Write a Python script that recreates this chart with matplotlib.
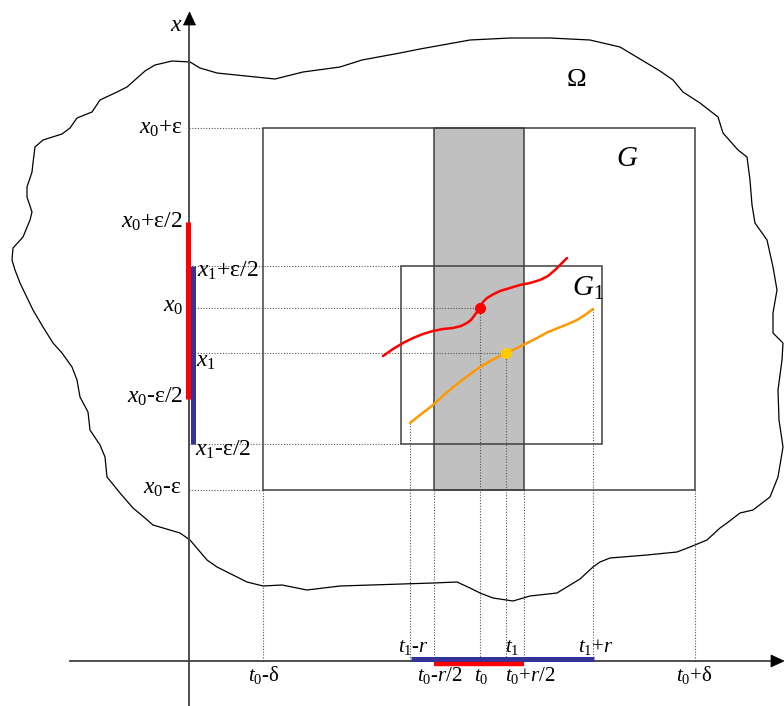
import numpy as np
import matplotlib
matplotlib.use("Agg")
import matplotlib.pyplot as plt
from matplotlib.patches import Rectangle, Polygon

plt.rcParams['font.family'] = ['Liberation Serif', 'DejaVu Serif']
plt.rcParams['mathtext.fontset'] = 'custom'
plt.rcParams['mathtext.rm'] = 'Liberation Serif'
plt.rcParams['mathtext.it'] = 'Liberation Serif:italic'

# --- geometry (pixel units, y grows downward) ---
axis_x, axis_y = 189.5, 661

# x-levels on the vertical axis
x0_eps_hi, x0_eps_lo = 128, 490          # x0 +/- eps
x0_half_hi, x0_half_lo = 222, 399        # x0 +/- eps/2
x1_half_hi, x1_half_lo = 266, 444        # x1 +/- eps/2
x0_lvl, x1_lvl = 308, 353

# t-levels on the horizontal axis
t0_delta_lo, t0_delta_hi = 263, 695      # t0 +/- delta
t0_r_lo, t0_r_hi = 434, 524              # t0 +/- r/2
t1_r_lo, t1_r_hi = 411, 594              # t1 +/- r
t0_lvl, t1_lvl = 480, 506

# G1 box
g1_left, g1_right = 401, 602

# boundary of Omega
omega_x = [172, 190, 200, 217, 275, 303, 340, 362, 400, 420, 470, 510, 550, 590,
           620, 640, 660, 673, 683, 700, 718, 723, 738, 747, 750, 752, 755, 767,
           773, 777, 773, 773, 783, 782, 778, 779, 783, 778, 770, 753, 740, 727,
           720, 707, 690, 677, 647, 610, 600, 593, 580, 557, 530, 513, 493, 480,
           470, 457, 433, 340, 307, 282, 263, 247, 217, 207, 190, 180, 153, 145,
           133, 120, 107, 105, 100, 90, 88, 80, 77, 72, 62, 53, 43, 33, 20, 15,
           12, 13, 23, 30, 32, 27, 27, 32, 33, 35, 43, 62, 70, 77, 92, 100, 117,
           127, 145, 155]
omega_y = [61, 62, 68, 73, 79, 72, 67, 60, 53, 49, 40, 38, 38, 40,
           47, 59, 71, 80, 92, 103, 117, 133, 150, 157, 180, 205, 223, 240,
           267, 290, 313, 333, 343, 360, 390, 420, 447, 477, 497, 510, 513, 523,
           528, 540, 547, 552, 555, 558, 562, 567, 579, 593, 596, 601, 598, 593,
           588, 582, 583, 586, 590, 585, 586, 582, 567, 560, 540, 533, 525, 518,
           508, 493, 477, 457, 445, 430, 412, 397, 380, 367, 353, 343, 327, 310, 283, 270,
           260, 248, 237, 220, 212, 197, 187, 172, 163, 147, 140, 134, 128, 118, 112, 100, 92,
           87, 71, 65]

# red trajectory through (t0, x0)
red_t = [383, 393, 403, 413, 423, 433, 443, 453, 461, 467, 471, 474, 477, 480,
         483, 487, 492, 500, 510, 520, 530, 540, 548, 555, 561, 567]
red_x = [356, 349, 343, 338, 334, 331, 329, 328, 326, 323, 320, 316, 312, 307,
         302, 298, 295, 291, 288, 285, 283, 280, 276, 270, 264, 258]

# orange trajectory through (t1, x1)
orange_t = [410, 420, 433, 445, 457, 469, 480, 492, 506, 515, 525, 537, 548,
            558, 568, 577, 585, 593]
orange_x = [423, 415, 405, 394, 384, 375, 367, 360, 353, 349, 344, 338, 332,
            328, 324, 320, 315, 309]

DARK = '#404040'
DOT = '#555555'
RED = '#ff0000'
BLUE = '#333399'
ORANGE = '#ff9900'

fig = plt.figure(figsize=(7.84, 7.06), dpi=100)
ax = fig.add_axes([0, 0, 1, 1])
ax.set_xlim(0, 784)
ax.set_ylim(706, 0)
ax.axis('off')

# domain boundary
ax.add_patch(Polygon(np.column_stack([omega_x, omega_y]), closed=True,
                     fill=False, ec='black', lw=0.9, zorder=2))

# shaded strip and boxes
ax.add_patch(Rectangle((t0_r_lo, x0_eps_hi), t0_r_hi - t0_r_lo, x0_eps_lo - x0_eps_hi,
                       fc='#c0c0c0', ec=DARK, lw=1.1, zorder=1))
ax.add_patch(Rectangle((t0_delta_lo, x0_eps_hi), t0_delta_hi - t0_delta_lo,
                       x0_eps_lo - x0_eps_hi, fill=False, ec=DARK, lw=1.1, zorder=3))
ax.add_patch(Rectangle((g1_left, x1_half_hi), g1_right - g1_left, x1_half_lo - x1_half_hi,
                       fill=False, ec=DARK, lw=1.1, zorder=3))

# dotted guides
dkw = dict(color=DOT, lw=0.8, ls=(0, (1, 1.5)), zorder=2)
ax.plot([axis_x, t0_delta_lo], [x0_eps_hi] * 2, **dkw)
ax.plot([axis_x, t0_delta_lo], [x0_eps_lo] * 2, **dkw)
ax.plot([axis_x, g1_left], [x1_half_hi] * 2, **dkw)
ax.plot([axis_x, g1_left], [x1_half_lo] * 2, **dkw)
ax.plot([axis_x, t0_lvl], [x0_lvl] * 2, **dkw)
ax.plot([axis_x, t1_lvl], [x1_lvl] * 2, **dkw)
for t in [t0_delta_lo, t0_r_lo, t0_r_hi, t0_delta_hi]:
    ax.plot([t, t], [x0_eps_lo, axis_y], **dkw)
ax.plot([t0_lvl] * 2, [x0_lvl, axis_y], **dkw)
ax.plot([t1_lvl] * 2, [x1_lvl, axis_y], **dkw)
ax.plot([orange_t[0]] * 2, [orange_x[0], axis_y], **dkw)
ax.plot([orange_t[-1]] * 2, [orange_x[-1], axis_y], **dkw)

# trajectories
ax.plot(red_t, red_x, color=RED, lw=1.8, zorder=5, solid_capstyle='round',
        solid_joinstyle='round')
ax.plot(orange_t, orange_x, color=ORANGE, lw=1.8, zorder=5, solid_capstyle='round',
        solid_joinstyle='round')
ax.plot([t0_lvl], [x0_lvl], 'o', color=RED, ms=7, zorder=6)
ax.plot([t1_lvl], [x1_lvl], 'o', color='#ffcc00', ms=7, zorder=6)

# axes with arrow heads
ax.plot([70, 772], [axis_y, axis_y], color=DARK, lw=1.3, zorder=4)
ax.plot([axis_x, axis_x], [25, 706], color=DARK, lw=1.3, zorder=4)
ax.add_patch(Polygon([[771, 655], [784, axis_y], [771, 667]], closed=True,
                     fc='black', ec='black', lw=0.5, zorder=7))
ax.add_patch(Polygon([[axis_x - 6, 25], [axis_x, 12], [axis_x + 6, 25]], closed=True,
                     fc='black', ec='black', lw=0.5, zorder=7))

# interval bars
ax.plot([axis_x - 1.5] * 2, [x0_half_hi, x0_half_lo], color=RED, lw=3.6,
        solid_capstyle='butt', zorder=8)
ax.plot([axis_x + 4] * 2, [x1_half_hi, x1_half_lo], color=BLUE, lw=3.6,
        solid_capstyle='butt', zorder=8)
ax.plot([t1_r_lo, t1_r_hi], [axis_y - 2.5] * 2, color=BLUE, lw=3.6,
        solid_capstyle='butt', zorder=8)
ax.plot([t0_r_lo, t0_r_hi], [axis_y + 2.5] * 2, color=RED, lw=3.2,
        solid_capstyle='butt', zorder=8)

fs = 17
# labels on the x axis
left_labels = [(r'$x_0$+ε', 183, 134), (r'$x_0$+ε/2', 183, 228), (r'$x_0$', 183, 312),
               (r'$x_0$-ε/2', 183, 403), (r'$x_0$-ε', 182, 494)]
for s, px, py in left_labels:
    ax.text(px, py, s, ha='right', va='baseline', fontsize=fs)
right_labels = [(r'$x_1$+ε/2', 197, 277), (r'$x_1$', 196, 367), (r'$x_1$-ε/2', 195, 456)]
for s, px, py in right_labels:
    ax.text(px, py, s, ha='left', va='baseline', fontsize=fs)
ax.text(176, 31, r'$x$', ha='center', va='baseline', fontsize=fs)

# labels on the t axis
fs_t = 15
below = [(r'$t_0$-δ', 264), (r'$t_0$-$r$/2', 440), (r'$t_0$', 481),
         (r'$t_0$+$r$/2', 530), (r'$t_0$+δ', 694)]
for s, px in below:
    ax.text(px, 681, s, ha='center', va='baseline', fontsize=fs_t)
above = [(r'$t_1$-$r$', 413), (r'$t_1$', 512), (r'$t_1$+$r$', 596)]
for s, px in above:
    ax.text(px, 652, s, ha='center', va='baseline', fontsize=fs_t)

# set names
ax.text(576, 86, 'Ω', ha='center', va='baseline', fontsize=19)
ax.text(627, 166, r'$G$', ha='center', va='baseline', fontsize=21)
ax.text(588, 296, r'$G_1$', ha='center', va='baseline', fontsize=21)

fig.savefig('out.png', dpi=100)
